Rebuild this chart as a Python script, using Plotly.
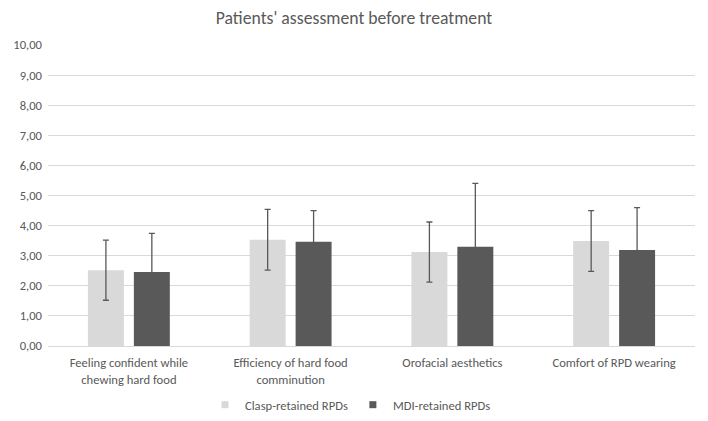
import plotly.graph_objects as go

categories = ["Feeling confident while<br>chewing hard food",
              "Efficiency of hard food<br>comminution",
              "Orofacial aesthetics",
              "Comfort of RPD wearing"]
clasp_values = [2.52, 3.53, 3.12, 3.49]
clasp_sd = [1.00, 1.01, 1.00, 1.01]
mdi_values = [2.46, 3.46, 3.30, 3.19]
mdi_sd = [1.28, 1.04, 2.10, 1.41]
series_names = ["Clasp-retained RPDs", "MDI-retained RPDs"]
tick_vals = [0, 1, 2, 3, 4, 5, 6, 7, 8, 9, 10]
tick_text = ["0,00", "1,00", "2,00", "3,00", "4,00", "5,00", "6,00", "7,00", "8,00", "9,00", "10,00"]

FONT = "Carlito, Lato, sans-serif"
TXT = "#595959"
LIGHT = "#d9d9d9"
DARK = "#595959"
W, H = 708, 421

fig = go.Figure()
for name, vals, sd, col in [(series_names[0], clasp_values, clasp_sd, LIGHT),
                            (series_names[1], mdi_values, mdi_sd, DARK)]:
    fig.add_trace(go.Bar(
        x=categories, y=vals, name=name, legendgroup=name, showlegend=False,
        marker=dict(color=col, line=dict(width=0)),
        error_y=dict(type="data", array=sd, visible=True,
                     color=DARK, thickness=1.3, width=3),
    ))
    # legend entry with a small square symbol
    fig.add_trace(go.Scatter(
        x=[None], y=[None], mode="markers", name=name, legendgroup=name,
        marker=dict(symbol="square", size=7, color=col), showlegend=True,
    ))

fig.update_layout(
    width=W, height=H,
    margin=dict(l=40, r=21, t=37, b=83),
    paper_bgcolor="white", plot_bgcolor="white",
    barmode="group", bargap=0.432, bargroupgap=0.217,
    font=dict(family=FONT, size=12.6, color=TXT),
    title=dict(text="Patients' assessment before treatment",
               xref="container", x=346 / W, xanchor="center",
               yref="container", y=1 - 10 / H, yanchor="middle",
               font=dict(family=FONT, size=17.7, color=TXT)),
    legend=dict(orientation="h",
                xref="container", x=197 / W, xanchor="left",
                yref="container", y=1 - 397 / H, yanchor="middle",
                font=dict(family=FONT, size=12.6, color=TXT),
                itemwidth=30, traceorder="normal"),
    showlegend=True,
)
fig.update_yaxes(range=[0, 10], tickvals=tick_vals, ticktext=tick_text,
                 showgrid=True, gridcolor=LIGHT, gridwidth=1, automargin=False,
                 zeroline=False, showline=False, ticks="", ticklen=0,
                 ticklabelstandoff=5,
                 tickfont=dict(family=FONT, size=12.6, color=TXT))
fig.update_xaxes(showgrid=False, showline=True, linecolor=LIGHT, linewidth=1,
                 ticks="", automargin=False, ticklabelstandoff=5,
                 tickfont=dict(family=FONT, size=12.6, color=TXT))

fig.write_html("out.html")
